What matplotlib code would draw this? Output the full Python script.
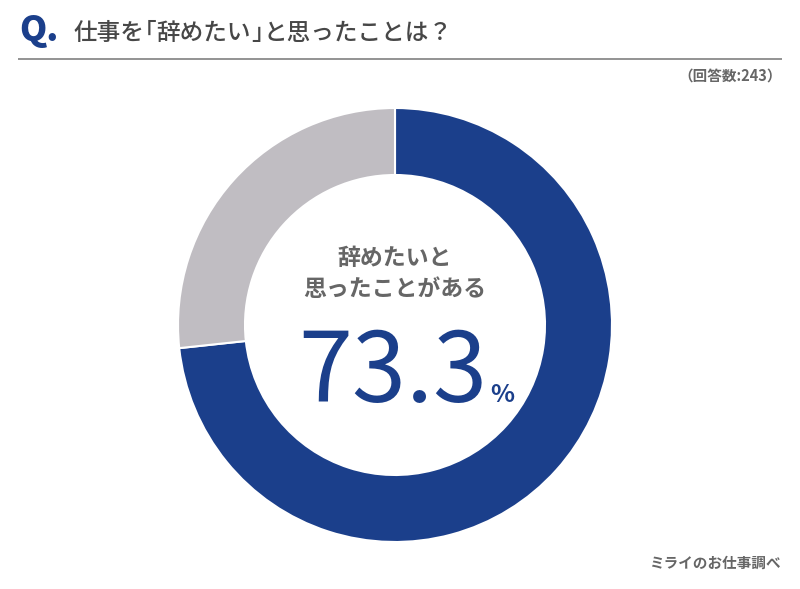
import matplotlib
matplotlib.use("Agg")
import matplotlib.pyplot as plt

plt.rcParams['font.family'] = ['Noto Sans CJK JP', 'DejaVu Sans']

# Survey data
labels = ["辞めたいと思ったことがある", "辞めたいと思ったことはない"]
values = [73.3, 26.7]
colors = ["#1b3f8b", "#c0bdc2"]
respondents = 243

title_parts = ["仕事を", "「", "辞めたい", "」", "と思ったことは？"]
center_label = "辞めたいと\n思ったことがある"
source = "ミライのお仕事調べ"

W, H = 800, 589
fig = plt.figure(figsize=(W / 100, H / 100), dpi=100)
fig.patch.set_facecolor("white")
ax = fig.add_axes([0, 0, 1, 1])

# Donut ring, starting at 12 o'clock and running clockwise
ax.pie(values, colors=colors, startangle=90, counterclock=False,
       center=(395, H - 325), radius=217,
       wedgeprops=dict(width=67, edgecolor="white", linewidth=1.5))

ax.set_xlim(0, W)
ax.set_ylim(0, H)
ax.set_aspect("equal")
ax.axis("off")

def y(px):
    return H - px

renderer = fig.canvas.get_renderer()

# Header: "Q." mark followed by the question, with the corner brackets
# set tight (half-width) like proportional Japanese typesetting
ax.text(19, y(31), "Q.", color="#1b3f8b", fontsize=25, fontweight="heavy",
        ha="left", va="center")
title_size = 17
em = title_size * 100 / 72
x = 74
for part in title_parts:
    if part == "「":
        x -= 0.5 * em
    t = ax.text(x, y(33), part, color="#474747", fontsize=title_size,
                fontweight="medium", ha="left", va="center")
    bb = t.get_window_extent(renderer)
    x += bb.width
    if part == "」":
        x -= 0.5 * em

ax.plot([18, 782], [y(58.5), y(58.5)], color="#8a8a8a", linewidth=1.3,
        solid_capstyle="butt")
ax.text(782, y(77), f"（回答数:{respondents}）", color="#666666", fontsize=10.5,
        fontweight="bold", ha="right", va="center")

# Centre annotation
ax.text(395, y(274), center_label, color="#666666", fontsize=16.5,
        fontweight="bold", ha="center", va="center", linespacing=1.45)
num = ax.text(298, y(402), f"{values[0]:.1f}", color="#1b3f8b", fontsize=70,
              ha="left", va="baseline")
nb = num.get_window_extent(renderer)
ax.text(nb.x1 + 3, y(402), "%", color="#1b3f8b", fontsize=18,
        fontweight="bold", ha="left", va="baseline")

# Footer
ax.text(782, y(563), source, color="#666666", fontsize=10.5, fontweight="bold",
        ha="right", va="center")

fig.savefig("out.png", dpi=100, facecolor="white")
